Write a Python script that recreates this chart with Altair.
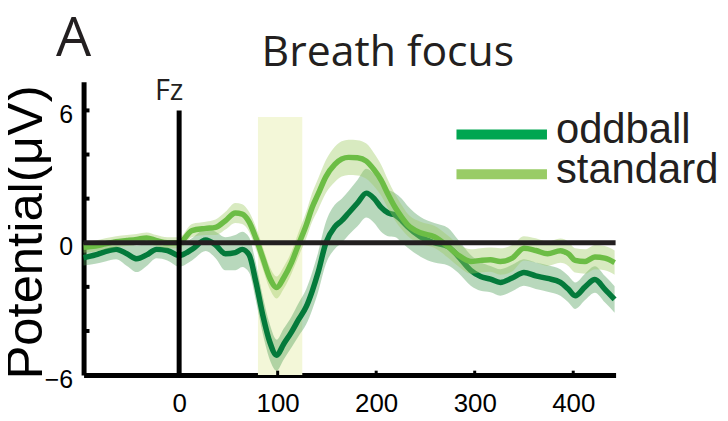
import altair as alt
import pandas as pd

# ---- data ----
time = [-97, -85, -75, -64, -53, -43, -33, -23, -12, 0,
        13, 27, 37, 47, 57, 64, 71, 78, 85, 92,
        99, 106, 114, 121, 129, 135, 141, 149, 158, 165,
        172, 181, 190, 198, 205, 212, 219, 226, 232, 245,
        259, 273, 283, 296, 306, 316, 326, 338, 350, 362,
        374, 387, 395, 402, 412, 422, 432, 442]

oddball = [-0.68, -0.55, -0.4, -0.3, -0.5, -0.73, -0.55, -0.3, -0.35, -0.58,
           -0.3, 0.13, -0.1, -0.5, -0.45, -0.3, -0.55, -1.8, -3.3, -4.5,
           -5.1, -4.6, -4.05, -3.5, -2.9, -2.2, -1.35, 0.0, 0.72, 1.0,
           1.35, 1.8, 2.25, 2.0, 1.6, 1.35, 1.26, 1.0, 0.72, 0.27,
           0.0, -0.18, -0.6, -1.25, -1.53, -1.65, -1.8, -1.6, -1.35, -1.5,
           -1.62, -1.8, -2.1, -2.4, -2.0, -1.67, -2.1, -2.57]

oddball_sem = [0.35, 0.4, 0.45, 0.45, 0.55, 0.6, 0.5, 0.4, 0.45, 0.5,
               0.5, 0.5, 0.6, 0.75, 0.8, 0.8, 0.8, 0.85, 0.85, 0.8,
               0.7, 0.7, 0.7, 0.75, 0.8, 0.85, 0.9, 0.95, 1.0, 1.0,
               1.0, 1.05, 1.1, 1.1, 1.1, 1.05, 1.0, 1.0, 0.95, 0.9,
               0.9, 0.85, 0.75, 0.7, 0.65, 0.6, 0.6, 0.6, 0.6, 0.6,
               0.6, 0.6, 0.6, 0.6, 0.6, 0.6, 0.6, 0.6]

standard = [-0.2, -0.15, -0.05, 0.05, 0.1, 0.15, 0.22, 0.1, 0.0, 0.0,
            0.55, 0.65, 0.7, 1.0, 1.35, 1.3, 0.95, 0.2, -0.7, -1.6,
            -2.03, -1.6, -0.9, -0.1, 0.8, 1.6, 2.2, 3.0, 3.55, 3.8,
            3.87, 3.85, 3.7, 3.3, 2.84, 2.2, 1.62, 1.15, 0.81, 0.45,
            0.27, -0.18, -0.55, -0.85, -0.8, -0.77, -0.85, -0.7, -0.25, -0.35,
            -0.5, -0.36, -0.5, -0.8, -0.85, -0.65, -0.7, -0.9]

standard_sem = [0.25, 0.25, 0.25, 0.25, 0.25, 0.25, 0.25, 0.25, 0.25, 0.25,
                0.3, 0.3, 0.35, 0.4, 0.45, 0.45, 0.45, 0.5, 0.5, 0.5,
                0.5, 0.5, 0.5, 0.55, 0.6, 0.65, 0.7, 0.75, 0.8, 0.8,
                0.8, 0.8, 0.8, 0.75, 0.7, 0.65, 0.6, 0.55, 0.5, 0.5,
                0.5, 0.5, 0.5, 0.55, 0.55, 0.55, 0.6, 0.6, 0.55, 0.55,
                0.55, 0.55, 0.55, 0.55, 0.55, 0.55, 0.55, 0.55]

series_names = ["oddball", "standard"]
window_ms = [80, 125]          # shaded analysis window
window_top = 5.7
x_ticks = [0, 100, 200, 300, 400]
y_labels = [-6, 0, 6]
y_minor = [-4, -2, 2, 4, 6]
x_domain = [-97, 443]
y_domain = [-6, 7.3]

df = pd.DataFrame({
    "time": time,
    "oddball": oddball,
    "odd_lo": [v - s for v, s in zip(oddball, oddball_sem)],
    "odd_hi": [v + s for v, s in zip(oddball, oddball_sem)],
    "standard": standard,
    "std_lo": [v - s for v, s in zip(standard, standard_sem)],
    "std_hi": [v + s for v, s in zip(standard, standard_sem)],
})

# ---- styling ----
LINE_ODD = "#047a3b"
LINE_STD = "#6cbd45"
BAND_ODD = "#4e9d57"
BAND_STD = "#9eca61"
LEG_COLORS = ["#00a651", "#99cc66"]
FONT_LAB = "Liberation Sans"
FONT_TTL = "Open Sans"

xscale = alt.Scale(domain=x_domain, nice=False, zero=False)
yscale = alt.Scale(domain=y_domain, nice=False, zero=False)

xaxis = alt.Axis(values=x_ticks, grid=False, ticks=False, tickSize=0,
                 domain=True, domainColor="black", domainWidth=5,
                 labelFont=FONT_LAB, labelFontSize=26, labelColor="black",
                 labelPadding=16, title=None)
yaxis = alt.Axis(values=y_labels, grid=False, ticks=False, tickSize=0,
                 domain=True, domainColor="black", domainWidth=5,
                 labelFont=FONT_LAB, labelFontSize=25, labelColor="black",
                 labelPadding=11, labelOffset=4,
                 title="Potential(μV)", titleFont=FONT_LAB, titleFontSize=51,
                 titleFontWeight="normal", titleColor="black", titleAngle=270,
                 titleAlign="center", titleBaseline="alphabetic",
                 titleX=-42, titleY=151)


def X(field):
    return alt.X(field, type="quantitative", scale=xscale, axis=xaxis)


def Y(field):
    return alt.Y(field, type="quantitative", scale=yscale, axis=yaxis)


win_df = pd.DataFrame({"x0": [window_ms[0]], "x1": [window_ms[1]],
                       "y0": [y_domain[0]], "y1": [window_top]})
highlight = alt.Chart(win_df).mark_rect(color="#f3f7d8").encode(
    x=X("x0"), x2="x1", y=Y("y0"), y2="y1")

base = alt.Chart(df)
band_odd = base.mark_area(color=BAND_ODD, opacity=0.4, interpolate="monotone").encode(
    x=X("time"), y=Y("odd_lo"), y2="odd_hi")
line_odd = base.mark_line(color=LINE_ODD, strokeWidth=5.5, interpolate="monotone").encode(
    x=X("time"), y=Y("oddball"))
band_std = base.mark_area(color=BAND_STD, opacity=0.4, interpolate="monotone").encode(
    x=X("time"), y=Y("std_lo"), y2="std_hi")
line_std = base.mark_line(color=LINE_STD, strokeWidth=5.5, interpolate="monotone").encode(
    x=X("time"), y=Y("standard"))

zero_h = alt.Chart(pd.DataFrame({"v": [0]})).mark_rule(color="#231f20", strokeWidth=5).encode(
    y=Y("v"))
zero_v = alt.Chart(pd.DataFrame({"t": [0], "a": [-6], "b": [6]})).mark_rule(
    color="black", strokeWidth=5).encode(x=X("t"), y=Y("a"), y2="b")

ytick_df = pd.DataFrame({"v": y_minor, "x0": [x_domain[0]] * len(y_minor),
                         "x1": [x_domain[0] + 6] * len(y_minor)})
ynubs = alt.Chart(ytick_df).mark_rule(color="black", strokeWidth=4).encode(
    y=Y("v"), x=X("x0"), x2="x1")
xtick_df = pd.DataFrame({"t": x_ticks[1:], "a": [y_domain[0]] * 4,
                         "b": [y_domain[0] + 0.2] * 4})
xnubs = alt.Chart(xtick_df).mark_rule(color="black", strokeWidth=3).encode(
    x=X("t"), y=Y("a"), y2="b")

panel_letter = alt.Chart(pd.DataFrame({"label": ["A"]})).mark_text(
    font=FONT_TTL, fontSize=56, align="center", baseline="alphabetic", color="#231f20").encode(
    text="label:N", x=alt.value(-10), y=alt.value(-26))
title = alt.Chart(pd.DataFrame({"label": ["Breath focus"]})).mark_text(
    font=FONT_TTL, fontSize=43, align="center", baseline="alphabetic", color="#231f20").encode(
    text="label:N", x=alt.value(306), y=alt.value(-16))
chan = alt.Chart(pd.DataFrame({"label": ["Fz"]})).mark_text(
    font=FONT_TTL, fontSize=29, align="center", baseline="alphabetic", color="#231f20").encode(
    text="label:N", x=alt.value(86), y=alt.value(18))

legend_layers = []
for i, (name, col) in enumerate(zip(series_names, LEG_COLORS)):
    ldf = pd.DataFrame({"label": [name]})
    legend_layers.append(alt.Chart(ldf).mark_rule(color=col, strokeWidth=10).encode(
        x=alt.value(375), x2=alt.value(466), y=alt.value(53 + 40 * i)))
    legend_layers.append(alt.Chart(ldf).mark_text(
        font=FONT_LAB, fontSize=42, align="left", baseline="alphabetic", color="#231f20").encode(
        text="label:N", x=alt.value(475), y=alt.value(62 + 40 * i)))

chart = alt.layer(
    highlight, band_odd, line_odd, band_std, line_std,
    zero_h, zero_v, ynubs, xnubs, panel_letter, title, chan, *legend_layers
).properties(
    width=535, height=295,
    autosize=alt.AutoSizeParams(type="none"),
    padding={"left": 76, "top": 73, "right": 105, "bottom": 41},
).configure_view(stroke=None)

chart.save("out.html", embed_options={"renderer": "svg", "actions": False})
